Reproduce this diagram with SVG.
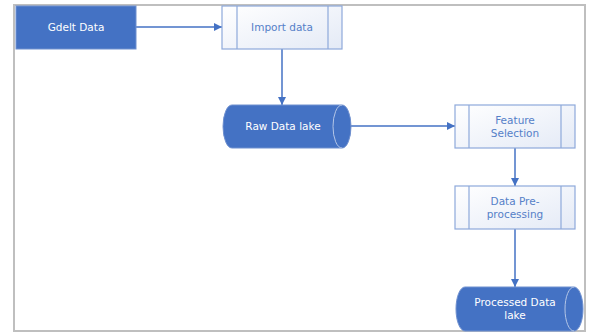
<svg xmlns="http://www.w3.org/2000/svg" width="590" height="336" viewBox="0 0 590 336">
<defs>
<linearGradient id="pg" x1="0" y1="0" x2="1" y2="1">
<stop offset="0" stop-color="#FFFFFF"/>
<stop offset="1" stop-color="#E4EAF6"/>
</linearGradient>
<marker id="ah" viewBox="0 0 10 10" refX="10" refY="5" markerWidth="9" markerHeight="8" markerUnits="userSpaceOnUse" orient="auto">
<path d="M0,0 L10,5 L0,10 Z" fill="#4472C4"/>
</marker>
</defs>
<style>
.frame{fill:#FFFFFF;stroke:#BFBFBF;stroke-width:2}
.term{fill:#4472C4;stroke:#6F90CF;stroke-width:1}
.proc{fill:url(#pg);stroke:#8EA9DB;stroke-width:1.2}
.inner{fill:none;stroke:#8EA9DB;stroke-width:1.2}
.arc{fill:none;stroke:#B4C6E7;stroke-width:1}
.lt{font-family:"DejaVu Sans",Verdana,sans-serif;font-size:10.5px;fill:#FFFFFF;text-anchor:middle}
.dt{font-family:"DejaVu Sans",Verdana,sans-serif;font-size:10.5px;fill:#5580C8;text-anchor:middle}
.conn{fill:none;stroke:#4472C4;stroke-width:1.5;marker-end:url(#ah)}
</style>
<rect class="frame" x="14" y="5" width="571" height="326"/>
<g id="connectors">
<path class="conn" d="M136,27 L222,27"/>
<path class="conn" d="M282,49 L282,105"/>
<path class="conn" d="M351,126 L455,126"/>
<path class="conn" d="M515,148 L515,186"/>
<path class="conn" d="M515,229 L515,287"/>
</g>
<g id="gdelt">
<rect class="term" x="16" y="6" width="120" height="43"/>
<text class="lt" x="76" y="31">Gdelt Data</text>
</g>
<g id="import">
<rect class="proc" x="222" y="6" width="120" height="43"/>
<line class="inner" x1="237" y1="6" x2="237" y2="49"/>
<line class="inner" x1="328" y1="6" x2="328" y2="49"/>
<text class="dt" x="282" y="31">Import data</text>
</g>
<g id="rawlake">
<path class="term" d="M232,105 L342,105 A9,21.5 0 0 1 342,148 L232,148 A9,21.5 0 0 1 232,105 Z"/>
<path class="arc" d="M342,105 A9,21.5 0 0 0 342,148"/>
<text class="lt" x="283" y="130">Raw Data lake</text>
</g>
<g id="feature">
<rect class="proc" x="455" y="105" width="120" height="43"/>
<line class="inner" x1="469" y1="105" x2="469" y2="148"/>
<line class="inner" x1="561" y1="105" x2="561" y2="148"/>
<text class="dt" x="515" y="124">Feature</text>
<text class="dt" x="515" y="136.5">Selection</text>
</g>
<g id="preproc">
<rect class="proc" x="455" y="186" width="120" height="43"/>
<line class="inner" x1="469" y1="186" x2="469" y2="229"/>
<line class="inner" x1="561" y1="186" x2="561" y2="229"/>
<text class="dt" x="515" y="205">Data Pre-</text>
<text class="dt" x="515" y="217.5">processing</text>
</g>
<g id="proclake">
<path class="term" d="M465,287 L574,287 A9,22 0 0 1 574,331 L465,331 A9,22 0 0 1 465,287 Z"/>
<path class="arc" d="M574,287 A9,22 0 0 0 574,331"/>
<text class="lt" x="515" y="306">Processed Data</text>
<text class="lt" x="515" y="318.5">lake</text>
</g>
</svg>
